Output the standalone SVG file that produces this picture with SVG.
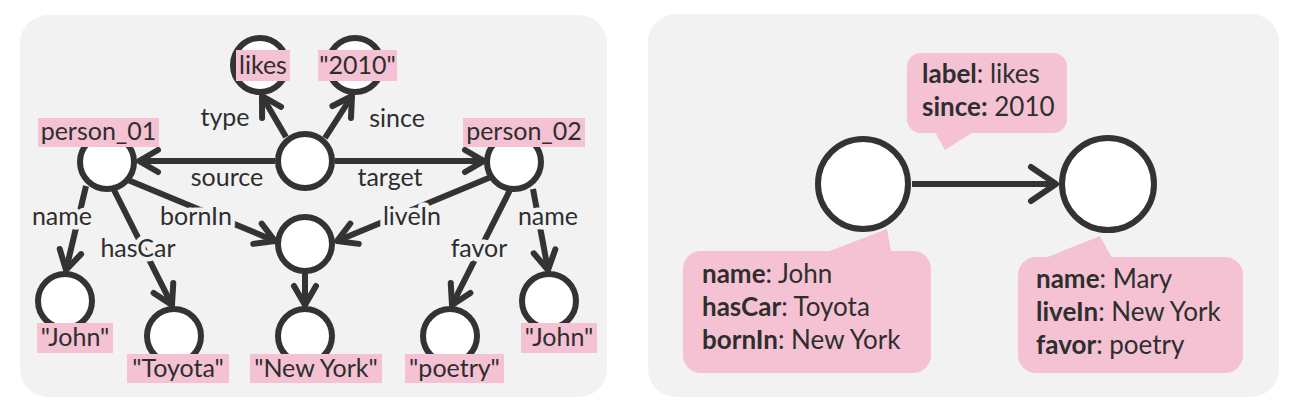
<svg xmlns="http://www.w3.org/2000/svg" width="1295" height="412" viewBox="0 0 1295 412">
<defs>
<style>
text{font-family:Lato,"Open Sans","Liberation Sans",sans-serif;fill:#2e2e2e;}
.lbl{font-size:25px;text-anchor:middle;}
.el{font-size:25px;text-anchor:middle;paint-order:stroke;stroke:#f2f2f2;stroke-width:9px;stroke-linejoin:round;}
.co{font-size:26px;}
.b{font-weight:bold;}
.panel{fill:#f2f2f2;}
.pink{fill:#f4c2d3;}
.node{fill:#fff;stroke:#333;stroke-width:6;}
.big{fill:#fff;stroke:#333;stroke-width:6;}
.edge{stroke:#333;stroke-width:6;fill:none;}
</style>
<marker id="arr" markerUnits="userSpaceOnUse" markerWidth="30" markerHeight="30" viewBox="-24 -15 30 30" refX="0" refY="0" orient="auto">
<path d="M-19,-11 L0,0 L-19,11" fill="none" stroke="#333" stroke-width="6" stroke-linecap="round" stroke-linejoin="round"/>
</marker>
<marker id="arr2" markerUnits="userSpaceOnUse" markerWidth="40" markerHeight="44" viewBox="-32 -22 40 44" refX="0" refY="0" orient="auto">
<path d="M-25,-17 L0,0 L-25,17" fill="none" stroke="#333" stroke-width="6" stroke-linecap="round" stroke-linejoin="round"/>
</marker>
</defs>
<rect class="panel" x="20" y="15" width="587" height="382" rx="28"/>
<rect class="panel" x="648" y="14" width="631" height="383" rx="28"/>

<g id="connectors">
<line class="edge" x1="286" y1="137" x2="262" y2="96" marker-end="url(#arr)"/>
<line class="edge" x1="325" y1="138" x2="352" y2="96" marker-end="url(#arr)"/>
<line class="edge" x1="275" y1="161" x2="139" y2="161" marker-end="url(#arr)"/>
<line class="edge" x1="335" y1="161" x2="484" y2="161" marker-end="url(#arr)"/>
<line class="edge" x1="86" y1="186" x2="66" y2="270" marker-end="url(#arr)"/>
<line class="edge" x1="113" y1="188" x2="172" y2="305" marker-end="url(#arr)"/>
<line class="edge" x1="128" y1="180" x2="275" y2="241" marker-end="url(#arr)"/>
<line class="edge" x1="491" y1="177" x2="337" y2="241" marker-end="url(#arr)"/>
<line class="edge" x1="510" y1="190" x2="452" y2="305" marker-end="url(#arr)"/>
<line class="edge" x1="533" y1="189" x2="548" y2="270" marker-end="url(#arr)"/>
<line class="edge" x1="305" y1="273" x2="305" y2="305" marker-end="url(#arr)"/>
<line class="edge" x1="912" y1="184" x2="1056" y2="184" marker-end="url(#arr2)"/>
<text class="el" x="225" y="126">type</text>
<text class="el" x="397" y="127">since</text>
<text class="el" x="227" y="186">source</text>
<text class="el" x="390" y="186">target</text>
<text class="el" x="62" y="225">name</text>
<text class="el" x="196" y="225">bornIn</text>
<text class="el" x="138" y="257">hasCar</text>
<text class="el" x="412" y="225">liveIn</text>
<text class="el" x="479" y="257">favor</text>
<text class="el" x="548" y="225">name</text>
</g>

<g id="n-likes"><circle class="node" cx="260" cy="65" r="27"/><rect class="pink" x="236" y="50" width="54" height="31"/><text class="lbl" x="263" y="74">likes</text></g>
<g id="n-2010"><circle class="node" cx="355" cy="65" r="27"/><rect class="pink" x="318" y="50" width="79" height="31"/><text class="lbl" x="357.5" y="74">"2010"</text></g>
<g id="n-stmt"><circle class="node" cx="305" cy="161" r="27"/></g>
<g id="n-person01"><circle class="node" cx="107" cy="162" r="27"/><rect class="pink" x="38" y="118" width="121" height="29"/><text class="lbl" x="98.5" y="140">person_01</text></g>
<g id="n-person02"><circle class="node" cx="514" cy="162" r="27"/><rect class="pink" x="463" y="118" width="122" height="29"/><text class="lbl" x="524" y="140">person_02</text></g>
<g id="n-city"><circle class="node" cx="305" cy="244" r="27"/></g>
<g id="n-john1"><circle class="node" cx="65" cy="301" r="27"/><rect class="pink" x="37" y="323" width="76" height="30"/><text class="lbl" x="75" y="346">"John"</text></g>
<g id="n-toyota"><circle class="node" cx="174" cy="336" r="27"/><rect class="pink" x="127" y="354" width="102" height="29"/><text class="lbl" x="178" y="377">"Toyota"</text></g>
<g id="n-newyork"><circle class="node" cx="305" cy="336" r="27"/><rect class="pink" x="250" y="354" width="132" height="29"/><text class="lbl" x="316" y="377">"New York"</text></g>
<g id="n-poetry"><circle class="node" cx="450" cy="336" r="27"/><rect class="pink" x="405" y="354" width="99" height="29"/><text class="lbl" x="454.5" y="377">"poetry"</text></g>
<g id="n-john2"><circle class="node" cx="549" cy="301" r="27"/><rect class="pink" x="521" y="323" width="76" height="30"/><text class="lbl" x="559" y="346">"John"</text></g>

<g id="callout-edge">
<rect class="pink" x="907" y="53" width="160" height="80" rx="14"/>
<polygon class="pink" points="935,132 945,150 973,132"/>
<text class="co" x="922" y="83"><tspan class="b">label</tspan>: likes</text>
<text class="co" x="922" y="116"><tspan class="b">since:</tspan> 2010</text>
</g>
<g id="callout-john">
<rect class="pink" x="683" y="251" width="248" height="122" rx="18"/>
<polygon class="pink" points="827,252 887,229 891,252"/>
<text class="co" x="702" y="283"><tspan class="b">name</tspan>: John</text>
<text class="co" x="702" y="316"><tspan class="b">hasCar</tspan>: Toyota</text>
<text class="co" x="702" y="349"><tspan class="b">bornIn</tspan>: New York</text>
</g>
<g id="callout-mary">
<rect class="pink" x="1018" y="257" width="225" height="116" rx="18"/>
<polygon class="pink" points="1045,258 1100,236 1112,258"/>
<text class="co" x="1036" y="288"><tspan class="b">name</tspan>: Mary</text>
<text class="co" x="1036" y="321"><tspan class="b">liveIn</tspan>: New York</text>
<text class="co" x="1036" y="354"><tspan class="b">favor</tspan>: poetry</text>
</g>
<g id="n-john"><circle class="big" cx="863" cy="184" r="45"/></g>
<g id="n-mary"><circle class="big" cx="1108" cy="184" r="46"/></g>
</svg>
